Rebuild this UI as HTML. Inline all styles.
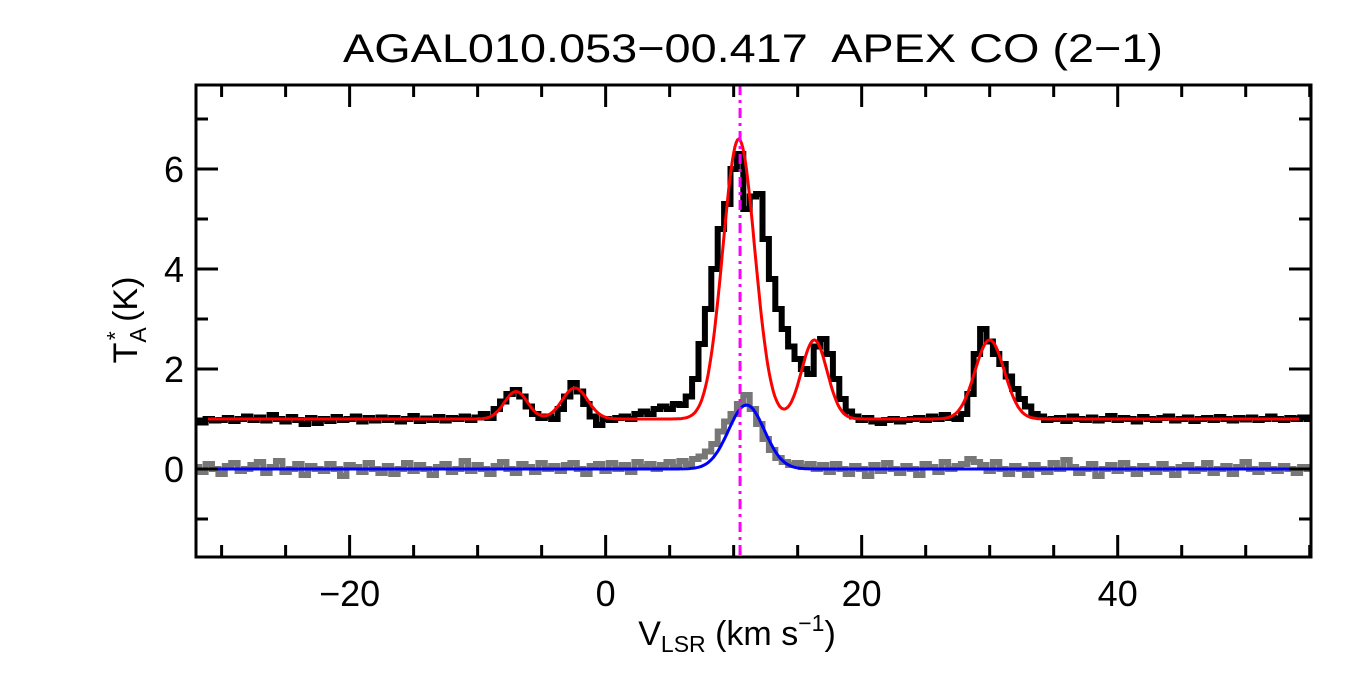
<!DOCTYPE html>
<html><head><meta charset="utf-8"><style>
body{margin:0;background:#fff;}
svg{display:block;font-family:"Liberation Sans",Arial,sans-serif;}
</style></head><body>
<svg id="chart" width="1350" height="675" viewBox="0 0 1350 675">
<rect width="1350" height="675" fill="#fff"/>
<text x="343" y="62" font-size="40" textLength="820" lengthAdjust="spacingAndGlyphs" xml:space="preserve">AGAL010.053−00.417  APEX CO (2−1)</text>
<g id="plot"></g>
<text x="737" y="645" font-size="34" text-anchor="middle">V<tspan font-size="23" dy="7">LSR</tspan><tspan dy="-7"> (km s</tspan><tspan font-size="23" dy="-14">−1</tspan><tspan dy="14">)</tspan></text>
<text transform="translate(137,320) rotate(-90)" font-size="34" text-anchor="middle">T<tspan font-size="23" dy="9">A</tspan><tspan font-size="23" dx="-13" dy="-23">*</tspan><tspan dy="14"> (K)</tspan></text>
</svg>
<script>
const vStart = -32, vStep = 0.5;
const coData = [0.95,0.93,1.0,0.97,0.98,1.02,0.96,1.0,1.05,0.98,
1.03,0.97,1.08,1.0,0.95,1.04,0.98,0.9,1.02,0.92,
1.0,0.96,1.04,0.98,1.0,1.05,0.95,1.02,0.97,1.03,
0.98,1.02,0.95,1.0,1.06,0.96,1.01,0.98,1.04,0.97,
1.02,1.0,1.05,0.98,1.03,1.1,1.02,1.2,1.35,1.5,
1.58,1.45,1.25,1.1,1.02,1.05,1.0,1.2,1.45,1.72,
1.55,1.3,1.05,0.88,1.0,0.98,1.02,1.05,1.0,1.1,
1.15,1.1,1.2,1.25,1.2,1.3,1.28,1.45,1.8,2.5,
3.2,4.0,4.8,5.3,6.0,6.3,5.2,5.45,5.5,4.6,
3.8,3.2,2.8,2.45,2.2,2.0,1.9,2.45,2.6,2.3,
1.8,1.4,1.15,1.05,0.98,1.02,0.95,0.92,0.98,1.0,
0.95,0.98,1.0,1.02,0.98,1.05,1.0,1.08,1.02,1.0,
1.1,1.5,2.3,2.8,2.55,2.3,2.1,1.85,1.6,1.4,
1.25,1.1,1.05,0.98,1.0,1.02,0.96,1.05,1.0,0.98,
1.03,0.97,1.0,1.06,0.98,1.02,1.0,0.95,1.04,1.0,
0.98,1.02,1.05,0.97,1.0,1.03,0.96,1.0,1.02,0.98,
1.04,1.0,0.97,1.02,0.99,1.03,0.98,1.0,1.05,1.0,
0.98,1.02,1.0,1.03,1.0];
const tracerData = [0.04,-0.06,0.1,0.0,-0.1,0.06,0.12,-0.04,0.0,0.08,
0.14,-0.08,0.04,0.16,-0.06,0.0,0.1,-0.12,0.06,0.0,
-0.04,0.1,0.0,-0.14,0.08,0.04,-0.06,0.12,0.0,-0.08,
0.06,-0.1,0.0,0.12,-0.04,0.08,0.0,-0.12,0.04,0.1,
-0.06,0.0,0.16,-0.04,0.08,0.0,-0.1,0.06,0.14,0.0,
-0.08,0.1,0.04,-0.06,0.12,0.0,0.06,-0.04,0.08,0.12,
0.0,-0.1,0.06,0.1,-0.04,0.12,0.0,0.08,-0.06,0.14,
0.04,0.1,0.0,0.08,0.14,0.04,0.16,0.1,0.2,0.25,
0.35,0.5,0.75,0.95,1.1,1.3,1.48,1.2,0.9,0.6,
0.38,0.22,0.14,0.08,0.12,0.04,0.1,0.0,0.08,-0.06,
0.1,0.0,-0.1,0.06,0.0,-0.14,0.08,-0.04,0.12,0.0,
-0.08,0.06,0.0,-0.12,0.1,0.04,-0.06,0.14,0.0,0.06,
0.1,0.2,0.14,0.08,-0.04,0.14,0.0,-0.1,0.06,0.0,
-0.12,0.08,0.0,-0.06,0.12,0.0,0.18,0.04,-0.08,0.0,
0.1,-0.14,0.0,0.08,-0.04,0.12,0.0,-0.1,0.06,0.0,
-0.06,0.1,0.0,-0.12,0.04,0.08,-0.04,0.0,0.12,-0.08,
0.0,0.06,-0.1,0.04,0.14,0.0,-0.06,0.08,0.0,-0.04,
0.06,0.0,-0.08,0.04,0.0];
const redBaseline = 1.0;
const redCenters = [-7.0, -2.4, 10.4, 16.3, 30.0];
const redAmps = [0.55, 0.62, 5.6, 1.58, 1.58];
const redSigmas = [0.9, 1.0, 1.25, 1.0, 1.15];
const blueCenters = [11.0];
const blueAmps = [1.28];
const blueSigmas = [1.4];
const refVelocity = 10.5;
const xTicks = [-20, 0, 20, 40];
const yTicks = [0, 2, 4, 6];

const L=196,R=1311,T=85,B=557, xMin=-32, xMax=55.1, yMin=-1.76, yMax=7.68;
const X=v=>L+(v-xMin)/(xMax-xMin)*(R-L);
const Y=t=>B-(t-yMin)/(yMax-yMin)*(B-T);
const NS="http://www.w3.org/2000/svg";
const g=document.getElementById('plot');
function mk(tag,attrs){const e=document.createElementNS(NS,tag);for(const k in attrs)e.setAttribute(k,attrs[k]);g.appendChild(e);return e;}
const cp=mk('clipPath',{id:'clip'});
const cr=document.createElementNS(NS,'rect');cr.setAttribute('x',L);cr.setAttribute('y',T);cr.setAttribute('width',R-L);cr.setAttribute('height',B-T);cp.appendChild(cr);

function stepPath(arr){let d='';arr.forEach((t,i)=>{const v=vStart+i*vStep;const x0=X(v-vStep/2),x1=X(v+vStep/2),y=Y(t);d+=(i?'L':'M')+x0.toFixed(1)+','+y.toFixed(1)+'L'+x1.toFixed(1)+','+y.toFixed(1);});return d;}
function model(base,c,a,s){let d='';for(let v=xMin;v<=xMax;v+=0.1){let t=base;for(let k=0;k<c.length;k++)t+=a[k]*Math.exp(-0.5*((v-c[k])/s[k])**2);d+=(d?'L':'M')+X(v).toFixed(1)+','+Y(t).toFixed(1);}return d;}

const gray=mk('path',{d:stepPath(tracerData),fill:'none',stroke:'#777',"stroke-width":6,"clip-path":'url(#clip)'});


const blk=mk('path',{d:stepPath(coData),fill:'none',stroke:'#000',"stroke-width":6,"clip-path":'url(#clip)'});


const blue=mk('path',{d:model(0,blueCenters,blueAmps,blueSigmas),fill:'none',stroke:'#0000ff',"stroke-width":3,"clip-path":'url(#clip)'});


const red=mk('path',{d:model(redBaseline,redCenters,redAmps,redSigmas),fill:'none',stroke:'#ff0000',"stroke-width":3,"clip-path":'url(#clip)'});


const vl=mk('line',{x1:X(refVelocity),x2:X(refVelocity),y1:T,y2:B,stroke:'#ff00ff',"stroke-width":3,"stroke-dasharray":'10,5,3,5'});



const frame=mk('rect',{x:L,y:T,width:R-L,height:B-T,fill:'none',stroke:'#000',"stroke-width":3});


let td='';
for(let v=-30;v<=55;v+=5){const x=X(v),len=(v%20===0)?22:12;td+=`M${x},${B}V${B-len}M${x},${T}V${T+len}`;}
for(let t=-1;t<=7;t+=1){const y=Y(t),len=(t%2===0)?22:12;td+=`M${L},${y}H${L+len}M${R},${y}H${R-len}`;}
const ticks=mk('path',{d:td,stroke:'#000',"stroke-width":3,fill:'none'});


xTicks.forEach(v=>{const t=mk('text',{x:X(v),y:606,"font-size":36,"text-anchor":'middle'});t.textContent=v<0?'−'+Math.abs(v):v;

});
yTicks.forEach(v=>{const t=mk('text',{x:184,y:Y(v)+13,"font-size":36,"text-anchor":'end'});t.textContent=v;

});
</script>
</body></html>
